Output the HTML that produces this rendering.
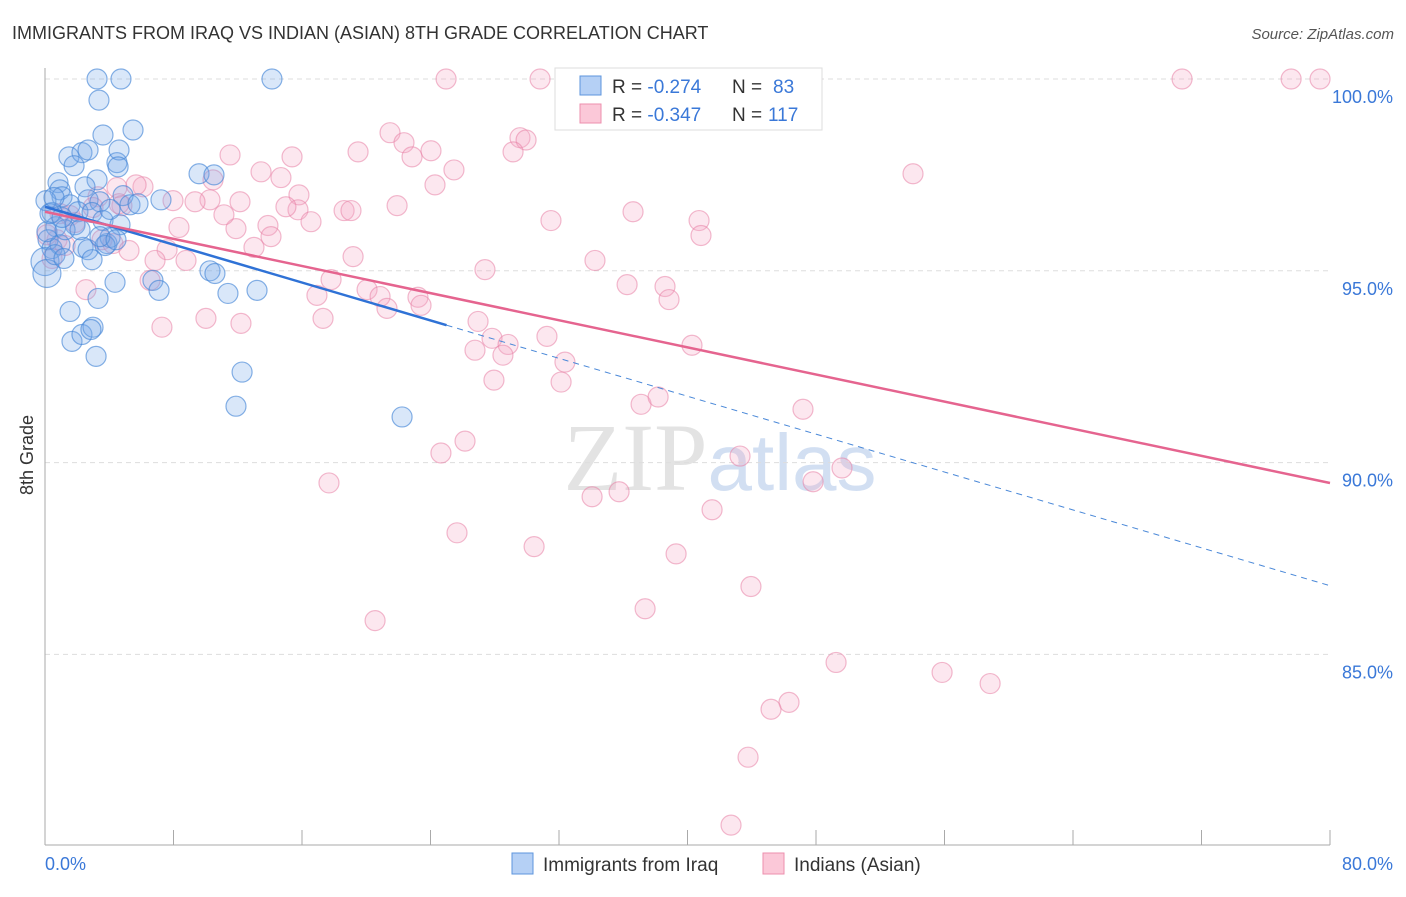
<!DOCTYPE html>
<html><head><meta charset="utf-8"><style>
body{margin:0;background:#fff;font-family:"Liberation Sans",sans-serif;}
svg text{font-family:"Liberation Sans",sans-serif;}
</style></head><body>
<svg id="chart" width="1406" height="892" xmlns="http://www.w3.org/2000/svg">
<text x="12" y="39" font-size="18" fill="#333">IMMIGRANTS FROM IRAQ VS INDIAN (ASIAN) 8TH GRADE CORRELATION CHART</text>
<text x="1394" y="39" font-size="15" fill="#555" text-anchor="end" font-style="italic">Source: ZipAtlas.com</text>
<text x="720" y="490" font-size="96" text-anchor="middle" fill="#ddd" opacity="0.8"><tspan font-family="Liberation Serif">ZIP</tspan><tspan fill="#c8d8f0" font-size="80">atlas</tspan></text>
<text transform="translate(33,455) rotate(-90)" font-size="18" fill="#333" text-anchor="middle">8th Grade</text>
<g id="grid"></g><g id="axes"></g><g id="pts"></g><g id="lines"></g>
<g>
<rect x="555" y="68" width="267" height="62" fill="#fff" stroke="#ddd"/>
<rect x="580" y="76" width="21" height="19" fill="#b5d0f5" stroke="#5d95dd"/>
<rect x="580" y="104" width="21" height="19" fill="#fbc8d8" stroke="#ec8fae"/>
<text x="612" y="93" font-size="19" fill="#333">R = <tspan fill="#3a78d8">-0.274</tspan></text>
<text x="732" y="93" font-size="19" fill="#333">N = </text>
<text x="773" y="93" font-size="19" fill="#3a78d8">83</text>
<text x="612" y="121" font-size="19" fill="#333">R = <tspan fill="#3a78d8">-0.347</tspan></text>
<text x="732" y="121" font-size="19" fill="#333">N = </text>
<text x="768" y="121" font-size="19" fill="#3a78d8">117</text>
</g>
<g>
<rect x="512" y="853" width="21" height="21" fill="#b5d0f5" stroke="#5d95dd"/>
<text x="543" y="871" font-size="19" fill="#333">Immigrants from Iraq</text>
<rect x="763" y="853" width="21" height="21" fill="#fbc8d8" stroke="#ec8fae"/>
<text x="794" y="871" font-size="19" fill="#333">Indians (Asian)</text>
</g>
</svg>
<script>
const xTickLabels=["0.0%","80.0%"];
const yTicks=[100,95,90,85];
const blueX=[3.24,4.73,14.13,3.36,3.61,5.48,1.49,2.30,2.68,1.81,4.48,4.61,4.55,3.24,2.49,0.81,0.93,1.06,1.56,2.68,3.42,4.86,5.29,5.79,7.22,9.59,10.52,2.05,2.93,3.61,4.67,0.44,0.68,0.19,0.44,0.93,1.87,2.37,2.68,3.86,4.05,3.74,0.0,0.12,10.27,10.58,6.72,4.36,3.30,1.56,7.10,11.39,13.2,1.68,2.30,2.99,2.86,3.18,12.27,11.89,22.23,0.12,0.62,1.25,2.18,3.42,0.06,0.31,0.56,2.93,1.06,4.05,4.42,1.18];
const blueY=[100,100,100,99.45,98.54,98.67,97.97,98.08,98.15,97.74,97.82,98.15,97.71,97.37,97.19,97.30,97.11,96.93,96.72,96.85,96.80,96.96,96.72,96.75,96.85,97.53,97.50,96.54,96.52,96.31,96.20,96.52,96.15,95.81,95.58,95.68,96.20,95.61,95.55,95.71,95.87,95.66,95.24,94.93,95.0,94.93,94.75,94.70,94.28,93.94,94.49,94.41,94.49,93.16,93.34,93.53,93.47,92.77,92.36,91.47,91.19,96.02,95.42,96.07,96.07,95.89,96.83,96.49,96.91,95.29,96.39,96.60,95.81,95.32];
const pinkX=[24.97,30.82,46.88,47.75,70.79,77.58,79.38,21.48,22.35,24.03,22.85,19.49,15.38,11.52,25.46,24.28,29.57,29.95,29.14,13.45,14.69,15.81,15.75,15.0,21.92,18.62,19.05,16.56,13.88,14.07,13.01,11.89,11.14,10.46,12.14,10.27,9.34,7.97,8.34,6.10,5.67,4.48,3.30,2.99,4.79,4.61,0.93,1.56,1.87,0.75,1.25,0.12,0.44,3.55,4.23,5.23,7.6,8.78,6.85,6.54,2.55,7.28,10.02,12.2,19.18,17.81,16.93,17.31,20.05,20.86,21.29,23.22,23.41,27.39,26.96,31.5,34.24,36.61,40.72,40.84,36.24,38.6,38.85,27.83,28.83,31.25,32.37,26.77,28.51,27.95,32.13,40.28,47.19,37.11,38.17,26.15,24.65,43.27,49.62,47.82,17.68,34.06,35.74,41.53,25.65,30.45,39.29,43.95,37.36,20.55,49.25,55.85,58.84,46.32,45.2,43.77,42.71,54.04];
const pinkY=[100,100,100,100,100,100,100,98.60,98.34,98.13,97.97,98.10,97.97,98.02,97.63,97.24,98.47,98.41,98.10,97.58,97.43,96.98,96.59,96.67,96.70,96.57,96.57,96.28,96.18,95.89,95.61,96.10,96.46,97.37,96.80,96.85,96.80,96.83,96.13,97.19,97.24,97.17,96.93,96.65,96.70,96.75,96.49,96.44,96.26,95.81,95.66,95.94,95.32,95.81,95.71,95.53,95.55,95.27,95.27,94.75,94.51,93.53,93.76,93.63,95.37,94.77,94.36,93.76,94.51,94.33,94.02,94.31,94.10,95.03,93.68,96.31,95.27,96.54,96.31,95.92,94.64,94.59,94.25,93.24,93.08,93.29,92.62,92.93,92.80,92.15,92.10,93.06,91.39,91.52,91.71,90.56,90.25,90.17,89.86,89.50,89.47,89.11,89.24,88.77,88.17,87.81,87.62,86.77,86.19,85.88,84.79,84.53,84.24,83.75,83.57,82.32,80.55,97.53];
const blueTrend=[96.67,-0.1235];
const pinkTrend=[96.54,-0.0884];
const NS="http://www.w3.org/2000/svg";
const sx=v=>45+v/80*1285;
const sy=v=>79+(100-v)*38.36;
function mk(tag,attrs,parent){const e=document.createElementNS(NS,tag);for(const k in attrs)e.setAttribute(k,attrs[k]);document.getElementById(parent).appendChild(e);return e;}
yTicks.forEach(t=>{
 const g=mk('line',{x1:45,x2:1330,y1:sy(t),y2:sy(t),stroke:'#ddd','stroke-dasharray':'5,4'},'grid');
 
 
 const tx=mk('text',{x:1393,y:sy(t)+24,'font-size':18,fill:'#3a78d8','text-anchor':'end'},'axes');
 tx.textContent=t.toFixed(1)+'%';
 
 
});
let ax=mk('line',{x1:45,x2:45,y1:68,y2:845,stroke:'#aaa'},'axes');


ax=mk('line',{x1:45,x2:1330,y1:845,y2:845,stroke:'#aaa'},'axes');


for(let i=0;i<=10;i++){const t=mk('line',{x1:sx(i*8),x2:sx(i*8),y1:830,y2:845,stroke:'#aaa'},'axes');
 
 }
let l0=mk('text',{x:45,y:870,'font-size':18,fill:'#3a78d8'},'axes');l0.textContent=xTickLabels[0];


let l1=mk('text',{x:1393,y:870,'font-size':18,fill:'#3a78d8','text-anchor':'end'},'axes');l1.textContent=xTickLabels[1];


function dots(X,Y,fill,stroke,name){X.forEach((x,i)=>{const r=(x<0.2&&Y[i]<95.5)?14:10;
 const c=mk('circle',{cx:sx(x),cy:sy(Y[i]),r:r,fill:fill,stroke:stroke,'stroke-width':1.2},'pts');
 
 });}
dots(pinkX,pinkY,'rgba(244,170,198,0.28)','rgba(232,130,165,0.55)','pink-point');
dots(blueX,blueY,'rgba(120,168,232,0.28)','rgba(70,135,215,0.65)','blue-point');
let b=mk('line',{x1:sx(0),y1:sy(blueTrend[0]),x2:sx(25),y2:sy(blueTrend[0]+25*blueTrend[1]),stroke:'#2f72d6','stroke-width':2.5},'lines');


b=mk('line',{x1:sx(25),y1:sy(blueTrend[0]+25*blueTrend[1]),x2:sx(80),y2:sy(blueTrend[0]+80*blueTrend[1]),stroke:'#4a88d8','stroke-width':1,'stroke-dasharray':'6,5'},'lines');


b=mk('line',{x1:sx(0),y1:sy(pinkTrend[0]),x2:sx(80),y2:sy(pinkTrend[0]+80*pinkTrend[1]),stroke:'#e5648f','stroke-width':2.5},'lines');


</script>
</body></html>
